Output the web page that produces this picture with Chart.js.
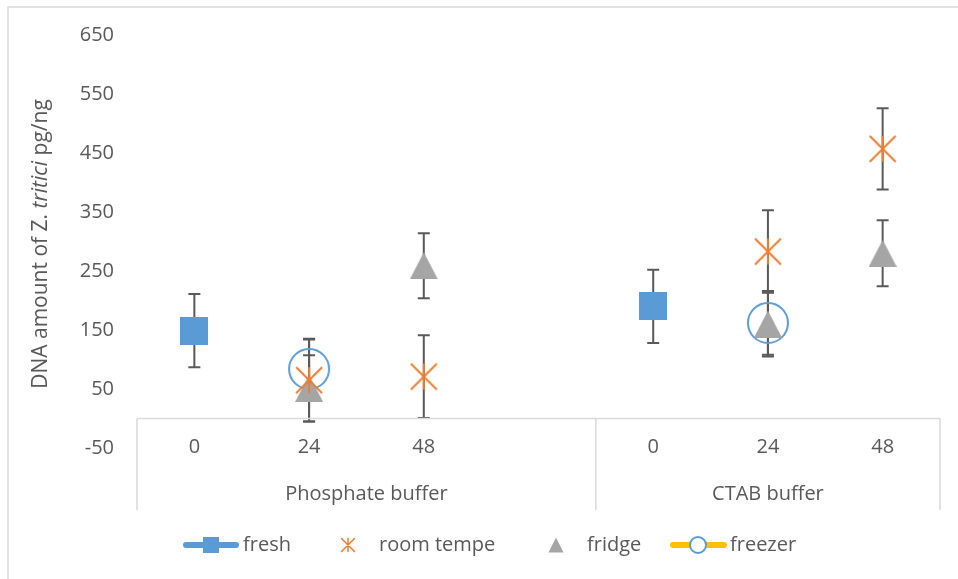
<!DOCTYPE html>
<html>
<head>
<meta charset="utf-8">
<script src="https://cdn.jsdelivr.net/npm/chart.js@4.4.0/dist/chart.umd.min.js"></script>
<style>
  html, body { margin: 0; padding: 0; background: #fff; }
  canvas { display: block; }
</style>
</head>
<body>
<canvas id="chart" width="958" height="579"></canvas>
<script>
// categories (hours) - the empty slot is the gap between the two buffers
const categories = ['0', '24', '48', '', '0', '24', '48'];
const groups = ['Phosphate buffer', 'CTAB buffer'];
const groupSizes = [4, 3];
const yTicks = [-50, 50, 150, 250, 350, 450, 550, 650];

// series values and +/- error
const fresh      = [149, null, null, null, 190, null, null];
const freshErr   = [62, null, null, null, 62, null, null];
const roomTemp   = [null, 65, 71, null, null, 283, 457];
const roomErr    = [null, 70, 70, null, null, 70, 69];
const fridge     = [null, 51, 259, null, null, 160, 280];
const fridgeErr  = [null, 56, 55, null, null, 55, 56];
const freezer    = [null, 84, null, null, null, 162, null];
const freezerErr = [null, 50, null, null, null, 54, null];

const FONT = '"Open Sans", sans-serif';
const TXT = '#595959';
const LINE = '#D9D9D9';
const BLUE = '#5B9BD5', ORANGE = '#ED7D31', GREY = '#A5A5A5', GOLD = '#FFC000';

function makeMarker(w, h, draw) {
  const c = document.createElement('canvas');
  c.width = w; c.height = h;
  draw(c.getContext('2d'), w, h);
  return c;
}

function square(g, x, y, s, col) {
  g.fillStyle = col;
  g.fillRect(x - s / 2, y - s / 2, s, s);
}
function star(g, x, y, s, col, lw) {
  const h = s / 2;
  g.strokeStyle = col; g.lineWidth = lw;
  g.beginPath();
  g.moveTo(x - h, y - h); g.lineTo(x + h, y + h);
  g.moveTo(x + h, y - h); g.lineTo(x - h, y + h);
  g.moveTo(x, y - h); g.lineTo(x, y + h);
  g.stroke();
}
function triangle(g, x, y, w, h, col) {
  g.fillStyle = col;
  g.beginPath();
  g.moveTo(x, y - h / 2); g.lineTo(x + w / 2, y + h / 2); g.lineTo(x - w / 2, y + h / 2);
  g.closePath(); g.fill();
}
function ring(g, x, y, r, col, lw) {
  g.strokeStyle = col; g.lineWidth = lw;
  g.beginPath(); g.arc(x, y, r, 0, Math.PI * 2); g.stroke();
}

const mSquare = makeMarker(28, 28, (g, w, h) => square(g, w / 2, h / 2, 28, BLUE));
const mStar = makeMarker(30, 30, (g, w, h) => star(g, w / 2, h / 2, 26, ORANGE, 2));
const mTri = makeMarker(28, 27, (g, w, h) => triangle(g, w / 2, h / 2, 28, 27, GREY));
const mRing = makeMarker(44, 44, (g, w, h) => ring(g, w / 2, h / 2, 20, BLUE, 2));

const errorBars = {
  id: 'errorBars',
  beforeDatasetsDraw(chart) {
    const { ctx, scales: { x, y } } = chart;
    ctx.save();
    ctx.strokeStyle = '#595959';
    ctx.lineWidth = 2;
    chart.data.datasets.forEach(ds => {
      ds.data.forEach((v, i) => {
        if (v == null || ds.err[i] == null) return;
        const px = x.getPixelForValue(i);
        const top = y.getPixelForValue(v + ds.err[i]);
        const bot = y.getPixelForValue(v - ds.err[i]);
        ctx.beginPath();
        ctx.moveTo(px, top); ctx.lineTo(px, bot);
        ctx.moveTo(px - 6, top); ctx.lineTo(px + 6, top);
        ctx.moveTo(px - 6, bot); ctx.lineTo(px + 6, bot);
        ctx.stroke();
      });
    });
    ctx.restore();
  }
};

const decorations = {
  id: 'decorations',
  afterDraw(chart) {
    const { ctx, chartArea: a, scales: { x, y } } = chart;
    ctx.save();
    // outer border (top and left only visible)
    ctx.strokeStyle = LINE; ctx.lineWidth = 1.5;
    ctx.beginPath();
    ctx.moveTo(8, 579); ctx.lineTo(8, 7); ctx.lineTo(958, 7);
    ctx.stroke();

    // category axis at y = 0 and the group table
    const y0 = y.getPixelForValue(0);
    const step = (a.right - a.left) / categories.length;
    const tableBottom = 510;
    ctx.beginPath();
    ctx.moveTo(a.left, y0); ctx.lineTo(a.right, y0);
    let edge = a.left;
    ctx.moveTo(edge, y0); ctx.lineTo(edge, tableBottom);
    groupSizes.forEach(n => {
      edge += n * step;
      ctx.moveTo(edge, y0); ctx.lineTo(edge, tableBottom);
    });
    ctx.stroke();

    ctx.fillStyle = TXT;
    ctx.font = '20px ' + FONT;
    ctx.textAlign = 'center'; ctx.textBaseline = 'middle';
    categories.forEach((c, i) => ctx.fillText(c, x.getPixelForValue(i), 447));
    let start = a.left;
    groups.forEach((gname, k) => {
      const w = groupSizes[k] * step;
      ctx.fillText(gname, start + w / 2, 494);
      start += w;
    });

    // y title with italic species name
    ctx.translate(41, 244);
    ctx.rotate(-Math.PI / 2);
    const parts = [['DNA amount of Z. ', ''], ['tritici', 'italic '], [' pg/ng', '']];
    let total = 0;
    parts.forEach(p => { ctx.font = p[1] + '21px ' + FONT; total += ctx.measureText(p[0]).width; });
    let tx = -total / 2;
    ctx.textAlign = 'left';
    parts.forEach(p => {
      ctx.font = p[1] + '21px ' + FONT;
      ctx.fillText(p[0], tx, 0);
      tx += ctx.measureText(p[0]).width;
    });
    ctx.restore();

    // legend
    ctx.save();
    const ly = 545;
    ctx.lineCap = 'round';
    ctx.strokeStyle = BLUE; ctx.lineWidth = 6;
    ctx.beginPath(); ctx.moveTo(186, ly); ctx.lineTo(236, ly); ctx.stroke();
    square(ctx, 211, ly, 16, BLUE);
    star(ctx, 348, ly, 13, ORANGE, 1.5);
    triangle(ctx, 556, ly, 15, 15, GREY);
    ctx.strokeStyle = GOLD; ctx.lineWidth = 6;
    ctx.beginPath(); ctx.moveTo(673, ly); ctx.lineTo(724, ly); ctx.stroke();
    ctx.fillStyle = '#fff';
    ctx.beginPath(); ctx.arc(698, ly, 8, 0, Math.PI * 2); ctx.fill();
    ring(ctx, 698, ly, 8, BLUE, 2);
    ctx.fillStyle = TXT;
    ctx.font = '20px ' + FONT;
    ctx.textAlign = 'left'; ctx.textBaseline = 'middle';
    ctx.fillText('fresh', 243, ly);
    ctx.fillText('room tempe', 379, ly);
    ctx.fillText('fridge', 587, ly);
    ctx.fillText('freezer', 730, ly);
    ctx.restore();
  }
};

function series(label, data, err, marker) {
  return { label, data, err, showLine: false, pointStyle: marker, pointRadius: 14, pointHoverRadius: 14 };
}

new Chart(document.getElementById('chart'), {
  type: 'line',
  data: {
    labels: categories,
    datasets: [
      series('fresh', fresh, freshErr, mSquare),
      series('room tempe', roomTemp, roomErr, mStar),
      series('fridge', fridge, fridgeErr, mTri),
      series('freezer', freezer, freezerErr, mRing)
    ]
  },
  options: {
    responsive: false,
    animation: false,
    events: [],
    layout: { padding: { top: 21, right: 18, bottom: 131, left: 0 } },
    plugins: { legend: { display: false }, tooltip: { enabled: false } },
    scales: {
      x: { type: 'category', offset: true, display: false },
      y: {
        min: -50,
        max: 650,
        afterBuildTicks: s => { s.ticks = yTicks.map(v => ({ value: v })); },
        afterFit: s => { s.width = 137; },
        ticks: { padding: 23, color: TXT, font: { family: FONT, size: 20 } },
        grid: { display: false, drawTicks: false },
        border: { display: false }
      }
    }
  },
  plugins: [errorBars, decorations]
});
</script>
</body>
</html>
